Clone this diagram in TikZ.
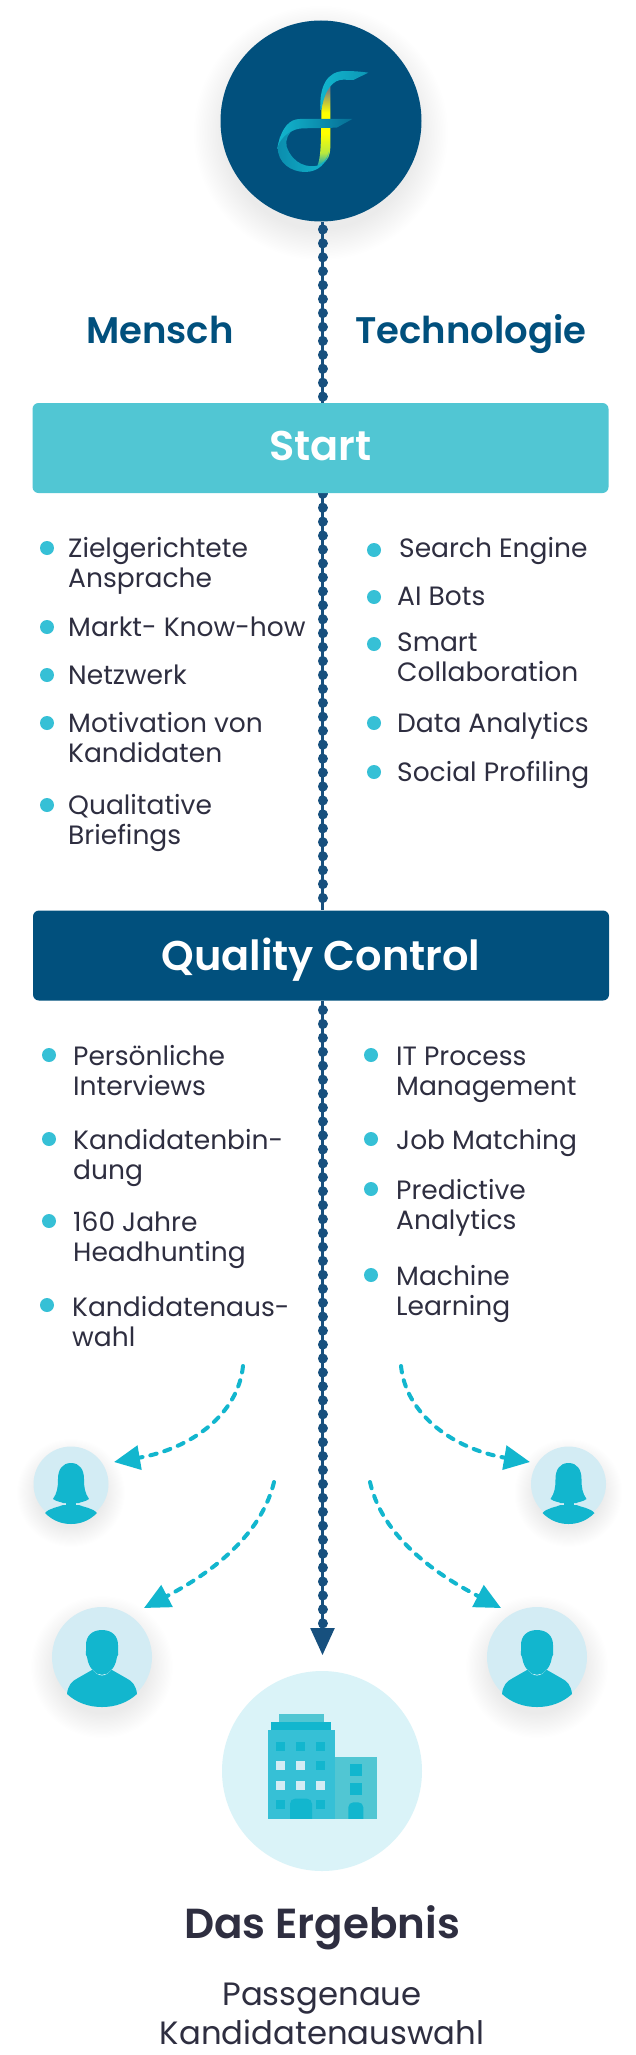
\documentclass[tikz,border=0pt]{standalone}
\usepackage{fontspec}
\setmainfont[BoldFont={Poppins SemiBold}]{Poppins}
\usetikzlibrary{arrows.meta,backgrounds}
\definecolor{navy}{HTML}{01507D}
\definecolor{chainblue}{HTML}{17507E}
\definecolor{ink}{HTML}{2E2E40}
\definecolor{startteal}{HTML}{51C6D3}
\definecolor{teal}{HTML}{12B6CE}
\definecolor{bul}{HTML}{36C0D6}
\definecolor{pale}{HTML}{D3ECF4}
\definecolor{paler}{HTML}{DAF3F8}
\definecolor{shadowc}{HTML}{4F7F9C}
\pgfdeclareverticalshading{stemshade}{100bp}{
 color(0bp)=(teal!90!black); color(25bp)=(teal!90!black); color(33bp)=(yellow!70!teal); color(45bp)=(yellow);
 color(58bp)=(yellow); color(72bp)=(gray); color(75bp)=(gray); color(100bp)=(gray)}
\tikzset{
 bullet/.style={circle,fill=bul,inner sep=0pt,minimum size=14pt},
 item/.style={anchor=west,align=left,text=ink,inner sep=0pt,font=\fontsize{26.5}{30}\selectfont},
 bandbox/.style={rounded corners=6pt,minimum width=576pt,minimum height=90pt,inner sep=0pt,text=white,text height=30pt,text depth=0pt,font=\bfseries\fontsize{41.5}{46}\selectfont},
 headline/.style={text=navy,inner sep=0pt,text height=27pt,text depth=0pt,font=\bfseries\fontsize{37}{42}\selectfont},
 chainline/.style={draw=chainblue,line width=2.5pt},
 chaindots/.style={draw=chainblue,line width=10pt,line cap=round},
 flow/.style={draw=teal,line width=4pt,line cap=round,dash pattern=on 6.5pt off 8pt,-{Triangle[length=26pt,width=24pt,fill=teal]}},
 disc/.style={circle,inner sep=0pt},
}
\newcommand{\softshadow}[4]{%
 \foreach \i in {0,...,19}{\fill[shadowc,opacity=.0055] (#1,#2) circle ({#3-3+#4*(1-\i/19)});}}
\newcommand{\femaleicon}[2]{%
 \begin{scope}[shift={(#1,#2)}]
 \fill[teal] (0,-21) .. controls (9,-21) and (13,-14) .. (13,-5) .. controls (13,4) and (14,9) .. (18,15)
   .. controls (14,18) and (9,18) .. (8,19) -- (-8,19) .. controls (-9,18) and (-14,18) .. (-18,15)
   .. controls (-14,9) and (-13,4) .. (-13,-5) .. controls (-13,-14) and (-9,-21) .. (0,-21) -- cycle;
 \fill[teal] (-26,29) .. controls (-22,24) and (-12,23) .. (-8,21) -- (8,21) .. controls (12,23) and (22,24) .. (26,29)
   .. controls (18,37) and (9,40) .. (0,40) .. controls (-9,40) and (-18,37) .. (-26,29) -- cycle;
 \fill[teal] (-5,17) rectangle (5,22);
 \end{scope}}
\newcommand{\maleicon}[2]{%
 \begin{scope}[shift={(#1,#2)}]
 \fill[teal] (-35,37) .. controls (-34,28) and (-30,24) .. (-24,21) -- (-10,13) -- (10,13) -- (24,21)
   .. controls (30,24) and (34,28) .. (35,37) .. controls (25,46) and (13,50) .. (0,50)
   .. controls (-13,50) and (-25,46) .. (-35,37) -- cycle;
 \draw[white,line width=.7pt,fill=teal] (-10,11) .. controls (-7,16) and (-3,18) .. (0,18) .. controls (3,18) and (7,16) .. (10,11) -- cycle;
 \fill[teal] (0,-27) .. controls (10,-27) and (16,-21) .. (16,-12) -- (16,-6) .. controls (17,-4) and (16,-1) .. (15,0)
   .. controls (14,7) and (11,12) .. (9,13) .. controls (6,17) and (3,17.5) .. (0,17.5) .. controls (-3,17.5) and (-6,17) .. (-9,13)
   .. controls (-11,12) and (-14,7) .. (-15,0) .. controls (-16,-1) and (-17,-4) .. (-16,-6) -- (-16,-12) .. controls (-16,-21) and (-10,-27) .. (0,-27) -- cycle;
 \end{scope}}
\begin{document}
\begin{tikzpicture}[x=1pt,y=-1pt]
\useasboundingbox (0,0) rectangle (635,2055);
% discs and boxes
\node[disc,fill=navy,minimum size=201pt] (logo) at (321,121) {};
\node[bandbox,fill=startteal,text height=25pt] (startbox) at (320.5,448) {Start};
\node[bandbox,fill=navy] (qualitybox) at (321,955.5) {Quality Control};
\node[disc,fill=pale,minimum size=75pt] (womanL) at (71,1484) {};
\node[disc,fill=pale,minimum size=75pt] (womanR) at (568.5,1484) {};
\node[disc,fill=pale,minimum size=100pt] (manL) at (102,1657) {};
\node[disc,fill=pale,minimum size=100pt] (manR) at (537,1657) {};
\node[disc,fill=paler,minimum size=200pt] (goal) at (322,1771) {};
\coordinate (chainstop) at (322.5,1625);
\coordinate (chaintip) at (322.5,1655);
\begin{scope}[on background layer]
 \fill[white] (0,0) rectangle (635,2055);
 \softshadow{321}{133}{100}{30}
 \softshadow{71}{1493}{37}{20}
 \softshadow{568.5}{1493}{37}{20}
 \softshadow{102}{1667}{50}{24}
 \softshadow{537}{1667}{50}{24}
 \draw[chainline] (logo.south -| chaintip) -- (startbox.north -| chaintip);
 \draw[chaindots,dash pattern=on 0.01pt off 13.93pt,dash phase=6.24pt] (logo.south -| chaintip) -- (startbox.north -| chaintip);
 \draw[chainline] (startbox.south -| chaintip) -- (qualitybox.north -| chaintip);
 \draw[chaindots,dash pattern=on 0.01pt off 13.93pt,dash phase=13.38pt] (startbox.south -| chaintip) -- (qualitybox.north -| chaintip);
 \draw[chaindots,dash pattern=on 0.01pt off 13.93pt,dash phase=4.64pt] (qualitybox.south -| chaintip) -- (chainstop);
\end{scope}
\draw[chainline,-{Triangle[length=27pt,width=24pt,fill=chainblue]}] (qualitybox.south -| chaintip) -- (chaintip);
% logo ribbon
\begin{scope}[shift={(180,0)},x=.33333pt,y=-.33333pt]
 \shade[shading=stemshade] (424,330) .. controls (428,295) and (438,270) .. (451,255) -- (451,440)
   .. controls (451,470) and (440,490) .. (412,497) .. controls (420,480) and (424,450) .. (424,330) -- cycle;
 \shade[left color=teal,right color=teal!70!navy] (421,330) .. controls (418,260) and (440,213) .. (495,213)
   .. controls (520,213) and (545,215) .. (565,218) -- (520,240) -- (490,239)
   .. controls (460,239) and (435,265) .. (424,330) -- cycle;
 \shade[left color=teal!60!navy,right color=teal] (293,440) .. controls (292,490) and (335,516) .. (375,516)
   .. controls (415,516) and (440,490) .. (447,455) .. controls (440,480) and (430,490) .. (412,497)
   .. controls (385,503) and (340,495) .. (320,440) .. controls (315,420) and (325,395) .. (345,387) -- (300,410) -- cycle;
 \shade[left color=teal,right color=navy!70!teal] (517,357) -- (360,357) .. controls (330,357) and (305,380) .. (293,440)
   .. controls (305,405) and (340,385) .. (370,385) -- (470,383) -- cycle;
\end{scope}
% headings
\node[headline] (mensch) at (160,330) {Mensch};
\node[headline] (tech) at (471,330) {Technologie};
% list 1 left
\node[bullet] (b1) at (47,548) {};
\node[item] (t1) at (68,565.5) {Zielgerichtete\\Ansprache};
\node[bullet] (b2) at (47,627) {};
\node[item] (t2) at (68,627) {Markt- Know-how};
\node[bullet] (b3) at (47,675) {};
\node[item] (t3) at (68,675) {Netzwerk};
\node[bullet] (b4) at (47,723) {};
\node[item] (t4) at (68,738) {Motivation von\\Kandidaten};
\node[bullet] (b5) at (47,805) {};
\node[item] (t5) at (68,823) {Qualitative\\Briefings};
% list 1 right
\node[bullet] (r1) at (374,550) {};
\node[item] (u1) at (399,551) {Search Engine};
\node[bullet] (r2) at (374,597) {};
\node[item] (u2) at (397,596) {AI Bots};
\node[bullet] (r3) at (374,644) {};
\node[item] (u3) at (397,657) {Smart\\Collaboration};
\node[bullet] (r4) at (374,723) {};
\node[item] (u4) at (397,726) {Data Analytics};
\node[bullet] (r5) at (374,772) {};
\node[item] (u5) at (397,775) {Social Profiling};
% list 2 left
\node[bullet] (c1) at (49,1055) {};
\node[item] (v1) at (73,1071) {Persönliche\\Interviews};
\node[bullet] (c2) at (49,1139) {};
\node[item] (v2) at (73,1158) {Kandidatenbin-\\dung};
\node[bullet] (c3) at (49,1221) {};
\node[item] (v3) at (73,1240) {160 Jahre\\Headhunting};
\node[bullet] (c4) at (47,1305) {};
\node[item] (v4) at (72,1322) {Kandidatenaus-\\wahl};
% list 2 right
\node[bullet] (d1) at (371,1055) {};
\node[item] (w1) at (396,1074.5) {IT Process\\Management};
\node[bullet] (d2) at (371,1139) {};
\node[item] (w2) at (396,1143) {Job Matching};
\node[bullet] (d3) at (371,1189) {};
\node[item] (w3) at (396,1208) {Predictive\\Analytics};
\node[bullet] (d4) at (371,1275) {};
\node[item] (w4) at (396,1294) {Machine\\Learning};
% people
\femaleicon{71}{1484}
\femaleicon{568.5}{1484}
\maleicon{102}{1657}
\maleicon{537}{1657}
% dashed arrows
\coordinate (fromLL) at (243,1366);
\coordinate (toLL) at (114,1462);
\coordinate (fromRR) at (401,1366);
\coordinate (toRR) at (530,1462);
\coordinate (fromL) at (274,1482);
\coordinate (toL) at (144,1608);
\coordinate (fromR) at (370,1482);
\coordinate (toR) at (501,1608);
\draw[flow] (fromLL) .. controls (238,1415) and (190,1449) .. (toLL);
\draw[flow] (fromRR) .. controls (406,1415) and (454,1449) .. (toRR);
\draw[flow] (fromL) .. controls (259,1545) and (192,1583) .. (toL);
\draw[flow] (fromR) .. controls (384,1545) and (453,1583) .. (toR);
% building
\fill[startteal] (335,1756.7) rectangle (376.7,1819.3);
\fill[bul] (267.7,1730) rectangle (335,1819.3);
\fill[teal] (271.3,1722.3) rectangle (331,1730);
\fill[startteal] (279,1714.3) rectangle (323.7,1722.3);
\foreach \wx/\wy/\wc in {276/1742/teal,296/1742/teal,316/1742/teal,276/1761.3/pale,296/1761.3/pale,316/1761.3/teal,276/1780.7/pale,296/1780.7/pale,316/1780.7/pale,276/1800/teal,316/1800/teal}
 \fill[\wc] (\wx,\wy) rectangle (\wx+9,\wy+9);
\fill[teal,rounded corners=5pt] (290,1825) -- (290,1798.7) -- (312,1798.7) -- (312,1825) -- cycle;
\fill[teal] (350,1764) rectangle (362,1775.7);
\fill[teal] (350,1783.3) rectangle (362,1795);
\fill[teal,rounded corners=5pt] (348.3,1825) -- (348.3,1802.3) -- (363.3,1802.3) -- (363.3,1825) -- cycle;
\fill[paler] (260,1819.3) rectangle (385,1830);
% result
\node[text=ink,inner sep=0pt,font=\bfseries\fontsize{42}{48}\selectfont] (result) at (322,1928) {Das Ergebnis};
\node[text=ink,inner sep=0pt,align=center,font=\fontsize{32.3}{39}\selectfont] (subline) at (322,2014) {Passgenaue\\Kandidatenauswahl};
\end{tikzpicture}
\end{document}
